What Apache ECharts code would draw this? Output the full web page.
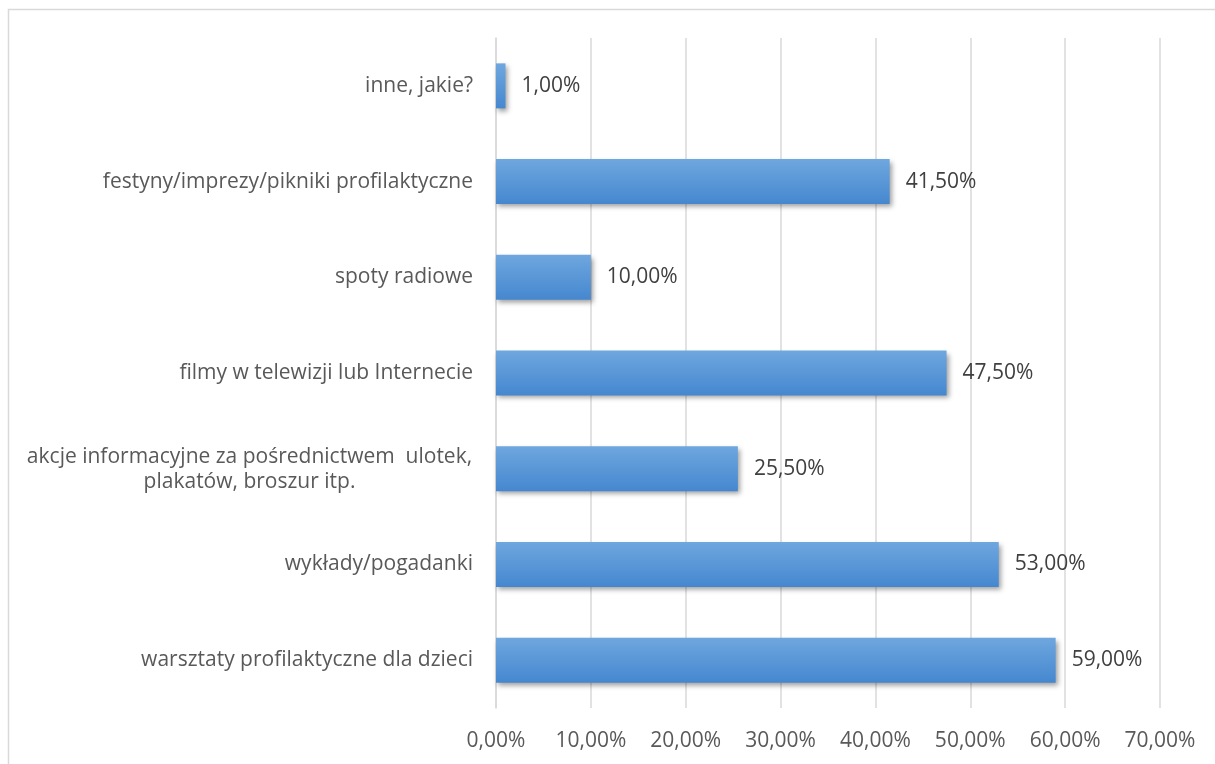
<!DOCTYPE html>
<html>
<head>
<meta charset="utf-8">
<script src="https://cdn.jsdelivr.net/npm/echarts@6/dist/echarts.min.js"></script>
<style>
  html, body { margin: 0; padding: 0; background: #ffffff; }
  #chart { width: 1215px; height: 764px; }
</style>
</head>
<body>
<div id="chart"></div>
<script>
// Categories listed bottom to top (ECharts category y-axis starts at the bottom)
const categories = [
  'warsztaty profilaktyczne dla dzieci',
  'wykłady/pogadanki',
  'akcje informacyjne za pośrednictwem  ulotek,\nplakatów, broszur itp.',
  'filmy w telewizji lub Internecie',
  'spoty radiowe',
  'festyny/imprezy/pikniki profilaktyczne',
  'inne, jakie?'
];
const values = [59.0, 53.0, 25.5, 47.5, 10.0, 41.5, 1.0];
const axisTicks = [0, 10, 20, 30, 40, 50, 60, 70];

const FONT = '"Open Sans", "Noto Sans", sans-serif';
const FS = 21;
const pct = v => v.toFixed(2).replace('.', ',') + '%';

const chart = echarts.init(document.getElementById('chart'), null, { renderer: 'canvas' });

chart.setOption({
  animation: false,
  backgroundColor: '#ffffff',
  graphic: [{
    type: 'rect',
    silent: true,
    shape: { x: 8.5, y: 9.5, width: 1300, height: 900 },
    style: { fill: 'none', stroke: '#d9d9d9', lineWidth: 1.5 }
  }],
  grid: { left: 496, right: 55, top: 38, bottom: 56, containLabel: false },
  xAxis: {
    type: 'value',
    min: axisTicks[0],
    max: axisTicks[axisTicks.length - 1],
    interval: 10,
    axisLine: { show: false },
    axisTick: { show: false },
    splitLine: { show: true, lineStyle: { color: '#d9d9d9', width: 1.5 } },
    axisLabel: {
      margin: 23,
      color: '#595959',
      fontFamily: FONT,
      fontSize: FS,
      formatter: v => pct(v)
    }
  },
  yAxis: {
    type: 'category',
    data: categories,
    axisLine: { show: true, lineStyle: { color: '#d9d9d9', width: 1.5 } },
    axisTick: { show: false },
    axisLabel: {
      margin: 23,
      color: '#595959',
      fontFamily: FONT,
      fontSize: FS,
      lineHeight: 25,
      formatter: v => v.indexOf('\n') >= 0 ? '{c|' + v + '}' : v,
      rich: {
        c: {
          width: 447,
          align: 'center',
          color: '#595959',
          fontFamily: FONT,
          fontSize: FS,
          lineHeight: 25,
          padding: [2, 0, 0, 0]
        }
      }
    }
  },
  series: [{
    type: 'bar',
    data: values,
    barWidth: '47%',
    itemStyle: {
      color: new echarts.graphic.LinearGradient(0, 0, 0, 1, [
        { offset: 0, color: '#6fa7df' },
        { offset: 1, color: '#4587cf' }
      ]),
      shadowColor: 'rgba(0,0,0,0.38)',
      shadowBlur: 5,
      shadowOffsetX: 2,
      shadowOffsetY: 3
    },
    label: {
      show: true,
      position: 'right',
      distance: 16,
      color: '#404040',
      fontFamily: FONT,
      fontSize: FS,
      formatter: p => pct(p.value)
    }
  }]
});
</script>
</body>
</html>
